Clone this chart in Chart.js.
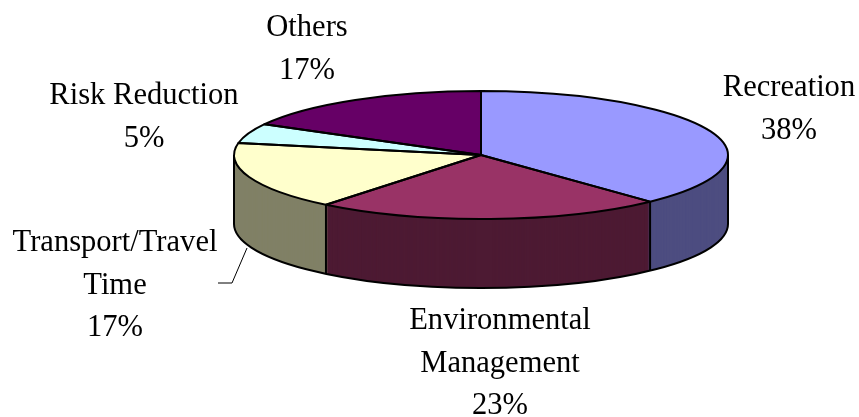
<!DOCTYPE html>
<html>
<head>
<meta charset="utf-8">
<style>
  html, body { margin: 0; background: #fff; }
  canvas { display: block; }
</style>
<script src="https://cdn.jsdelivr.net/npm/chart.js@4"></script>
</head>
<body>
<canvas id="pie" width="859" height="417"></canvas>
<script>
const categories = ["Recreation", "Environmental Management", "Transport/Travel Time", "Risk Reduction", "Others"];
const values = [38, 22.8, 17.2, 5, 17];
const topColors = ["#9999FF", "#993366", "#FFFFCC", "#CCFFFF", "#660066"];
const sideColors = ["#4D4D80", "#4D1A33", "#808066", "#668080", "#330033"];

// how the labels break and where they sit
const labelLines = [["Recreation"], ["Environmental", "Management"], ["Transport/Travel", "Time"], ["Risk Reduction"], ["Others"]];
const labelSpots = [[789, 96], [500, 329], [115, 251], [144, 104], [307, 36]];
const leader = [[247, 248], [232, 283], [218, 283]];

const SQUASH = 64 / 247;
const DEPTH = 69;
const LINE_H = 42.7;
const TEXT_SQUEEZE = 0.955;
// dark wall goes last so no light edge bleeds over it at the seams
const WALL_ORDER = [4, 3, 2, 0, 1];

function squash(ctx, arc, dy) {
  ctx.translate(arc.x, arc.y + dy);
  ctx.scale(1, SQUASH);
  ctx.translate(-arc.x, -arc.y);
}

const pie3d = {
  id: "pie3d",
  beforeDatasetsDraw(chart) {
    const ctx = chart.ctx;
    const arcs = chart.getDatasetMeta(0).data;
    // side wall: stack of dark copies, bottom one first
    for (let d = DEPTH; d > 0; d--) {
      WALL_ORDER.forEach(i => {
        const arc = arcs[i];
        const keep = arc.options;
        arc.options = { ...keep, backgroundColor: sideColors[i] };
        ctx.save();
        squash(ctx, arc, d);
        arc.draw(ctx);
        ctx.restore();
        arc.options = keep;
      });
    }
    ctx.save();
    squash(ctx, arcs[0], 0);
  },
  afterDatasetsDraw(chart) {
    const ctx = chart.ctx;
    ctx.restore();
    const arcs = chart.getDatasetMeta(0).data;
    const { x, y, outerRadius: r } = arcs[0];
    const ry = r * SQUASH;

    ctx.save();
    ctx.strokeStyle = "#000";
    ctx.lineWidth = 2;
    ctx.lineJoin = "round";

    arcs.forEach(arc => {
      ctx.beginPath();
      ctx.moveTo(x, y);
      ctx.ellipse(x, y, r, ry, 0, arc.startAngle, arc.endAngle);
      ctx.closePath();
      ctx.stroke();

      // seams on the visible front of the wall
      const sx = x + r * Math.cos(arc.endAngle);
      const sy = y + ry * Math.sin(arc.endAngle);
      if (Math.sin(arc.endAngle) > 0) {
        ctx.beginPath();
        ctx.moveTo(sx, sy);
        ctx.lineTo(sx, sy + DEPTH);
        ctx.stroke();
      }
    });

    ctx.beginPath();
    ctx.moveTo(x + r, y);
    ctx.lineTo(x + r, y + DEPTH);
    ctx.ellipse(x, y + DEPTH, r, ry, 0, 0, Math.PI);
    ctx.lineTo(x - r, y);
    ctx.stroke();

    ctx.lineWidth = 1;
    ctx.beginPath();
    leader.forEach((p, i) => i ? ctx.lineTo(p[0], p[1]) : ctx.moveTo(p[0], p[1]));
    ctx.stroke();

    ctx.fillStyle = "#000";
    ctx.font = '32px "Liberation Serif"';
    ctx.textAlign = "center";
    ctx.textBaseline = "alphabetic";
    labelLines.forEach((lines, i) => {
      const [lx, ly] = labelSpots[i];
      lines.concat(Math.round(values[i]) + "%").forEach((t, n) => {
        ctx.fillText(t, lx, ly + n * LINE_H, ctx.measureText(t).width * TEXT_SQUEEZE);
      });
    });
    ctx.restore();
  }
};

new Chart(document.getElementById("pie"), {
  type: "pie",
  data: {
    labels: categories,
    datasets: [{
      data: values,
      backgroundColor: topColors,
      borderWidth: 0,
      radius: 247,
      clip: false
    }]
  },
  options: {
    responsive: false,
    animation: false,
    layout: { padding: { left: 103, bottom: 107 } },
    plugins: { legend: { display: false }, tooltip: { enabled: false } }
  },
  plugins: [pie3d]
});
</script>
</body>
</html>
